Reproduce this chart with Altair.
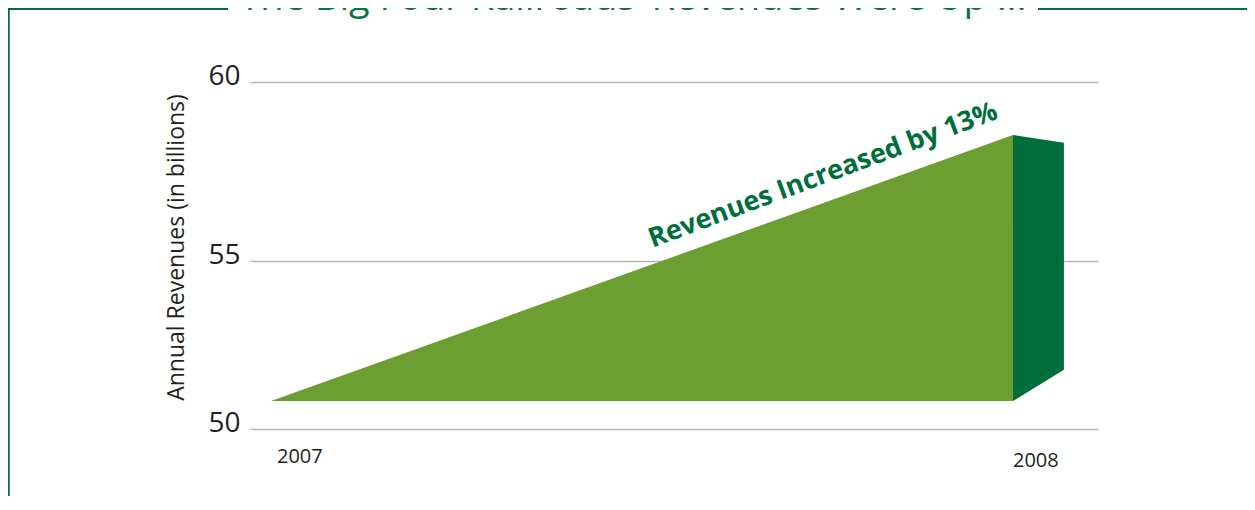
import altair as alt
import pandas as pd

# ---------------- data ----------------
years = [2007, 2008]
revenues = [50.83, 58.52]            # billions
side_years = [2008, 2008.0687]       # 3-D side face of the 2008 end
side_top = [58.52, 58.30]
side_bottom = [50.83, 51.76]
y_ticks = [50, 55, 60]
x_labels = ["2007", "2008"]
annotation = "Revenues Increased by 13%"
title_text = "The Big Four Railroads\u2019 Revenues Were Up ..."
y_title = "Annual Revenues (in billions)"

FONT = "Open Sans"
DARK = "#006e3a"
LIGHT = "#6d9e31"
TEXT = "#231f20"

x_scale = alt.Scale(domain=[2006.9717, 2008.1146], nice=False, zero=False)
y_scale = alt.Scale(domain=[50, 55, 60], range=[347, 179, 0], nice=False, zero=False)

tri_df = pd.DataFrame({"year": years, "rev": revenues, "base": [revenues[0]] * len(years)})
side_df = pd.DataFrame({"year": side_years, "top": side_top, "bottom": side_bottom})
lab_df = pd.DataFrame({"year": years, "label": x_labels, "base": [y_ticks[0]] * len(years)})
ann_df = pd.DataFrame({"year": [2007.748], "rev": [57.18], "label": [annotation]})
dummy = pd.DataFrame({"a": [0]})

y_axis = alt.Axis(
    values=y_ticks, title=y_title, grid=True, gridColor="#b3b3b3", gridWidth=1.5,
    domain=False, ticks=False, tickSize=0,
    labelFont=FONT, labelFontSize=28, labelColor=TEXT, labelPadding=10,
    labelBaseline="alphabetic", labelOffset=2,
    titleFont=FONT, titleFontSize=23, titleFontWeight="normal", titleColor=TEXT,
    titleAngle=270, titleX=-74, titleY=165, titleAlign="center", titleBaseline="middle",
)

tri = alt.Chart(tri_df).mark_area(color=LIGHT, opacity=1).encode(
    x=alt.X("year:Q", scale=x_scale, axis=None),
    y=alt.Y("rev:Q", scale=y_scale, axis=y_axis),
    y2="base:Q",
)

side = alt.Chart(side_df).mark_area(color=DARK, opacity=1).encode(
    x=alt.X("year:Q", scale=x_scale, axis=None),
    y=alt.Y("top:Q", scale=y_scale),
    y2="bottom:Q",
)

ann = alt.Chart(ann_df).mark_text(
    font=FONT, fontSize=27, fontWeight="bold", color=DARK, angle=339.5,
    align="center", baseline="alphabetic",
).encode(
    x=alt.X("year:Q", scale=x_scale, axis=None),
    y=alt.Y("rev:Q", scale=y_scale),
    text="label:N",
)

def year_label(yr, dx, dy):
    return alt.Chart(lab_df).transform_filter(f"datum.year == {yr}").mark_text(
        font=FONT, fontSize=20, color=TEXT, align="left", baseline="alphabetic", dx=dx, dy=dy,
    ).encode(
        x=alt.X("year:Q", scale=x_scale, axis=None),
        y=alt.Y("base:Q", scale=y_scale),
        text="label:N",
    )

lab07 = year_label(2007, 6, 34)
lab08 = year_label(2008, 0, 38)

frame_left_top = alt.Chart(dummy).mark_rule(color=DARK, strokeWidth=3).encode(
    x=alt.value(-243), x2=alt.value(-22), y=alt.value(-73.5))
frame_right_top = alt.Chart(dummy).mark_rule(color=DARK, strokeWidth=3).encode(
    x=alt.value(788), x2=alt.value(1010), y=alt.value(-73.5))
frame_left = alt.Chart(dummy).mark_rule(color=DARK, strokeWidth=2.5).encode(
    x=alt.value(-241.5), y=alt.value(-75), y2=alt.value(440))

title = alt.Chart(dummy).mark_text(
    text=title_text, font=FONT, fontSize=38, color="#0b7340",
    align="center", baseline="alphabetic",
).encode(x=alt.value(383), y=alt.value(-72))

chart = alt.layer(
    tri, side, ann, lab07, lab08, frame_left_top, frame_right_top, frame_left, title
).properties(
    width=848, height=347,
    autosize=alt.AutoSizeParams(type="none"),
    padding={"left": 242, "top": 74, "right": 149, "bottom": 67},
).configure_view(stroke=None)

chart.save("out.html", embed_options={"renderer": "svg", "actions": False})
